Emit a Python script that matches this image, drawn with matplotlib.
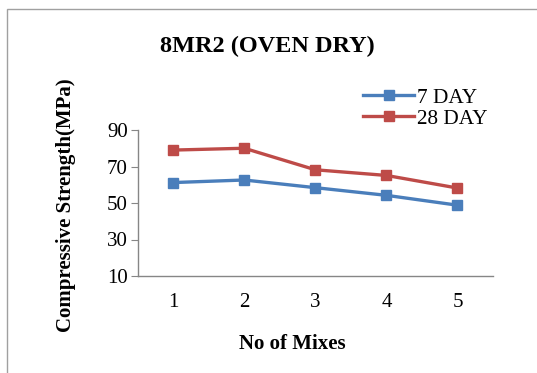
import matplotlib
matplotlib.use("Agg")
import matplotlib.pyplot as plt
from matplotlib.patches import Rectangle

mixes = [1, 2, 3, 4, 5]
day7 = [61.2, 62.6, 58.4, 54.2, 48.8]
day28 = [79.0, 80.0, 68.2, 65.1, 58.2]
yticks = [10, 30, 50, 70, 90]

plt.rcParams['font.family'] = ['Liberation Serif', 'DejaVu Serif']

fig = plt.figure(figsize=(5.37, 3.73), dpi=100)
W, H = 537, 373
ax = fig.add_axes([137.7 / W, 1 - 276 / H, (493 - 137.7) / W, (276 - 130) / H])

blue = '#4A7EBB'
red = '#BE4B48'
ax.plot(mixes, day7, color=blue, lw=2.4, marker='s', ms=7, label='7 DAY')
ax.plot(mixes, day28, color=red, lw=2.4, marker='s', ms=7, label='28 DAY')

ax.set_xlim(0.5, 5.5)
ax.set_ylim(10, 90)
ax.set_yticks(yticks)
ax.set_xticks(mixes)
for s in ['top', 'right']:
    ax.spines[s].set_visible(False)
for s in ['left', 'bottom']:
    ax.spines[s].set_color('#868686')
    ax.spines[s].set_linewidth(1.0)
ax.tick_params(axis='y', length=5, color='#868686', labelsize=15, pad=2)
ax.tick_params(axis='x', length=0, labelsize=15, pad=12)

ax.set_xlabel('No of Mixes', fontsize=15, fontweight='bold')
ax.xaxis.set_label_coords(0.434, -58 / (276 - 130))
ax.set_ylabel('Compressive Strength(MPa)', fontsize=15, fontweight='bold')
ax.yaxis.set_label_coords(-62 / (493 - 137.7), 0.486)

fig.text(267 / W, 1 - 46 / H, '8MR2 (OVEN DRY)', fontsize=17.5, fontweight='bold',
         ha='center', va='center')

ax.legend(loc='upper left', bbox_to_anchor=(363 / W, 1 - 88 / H), bbox_transform=fig.transFigure,
          frameon=False, fontsize=15.3, handlelength=2.4, handletextpad=0.15,
          labelspacing=0.05, borderaxespad=0, borderpad=0)

fig.patches.append(Rectangle((7 / W, -0.1), 1.2, 1 - 9 / H + 0.1, transform=fig.transFigure,
                             fill=False, edgecolor='#A0A0A0', lw=1.0))

fig.savefig('out.png', dpi=100)
